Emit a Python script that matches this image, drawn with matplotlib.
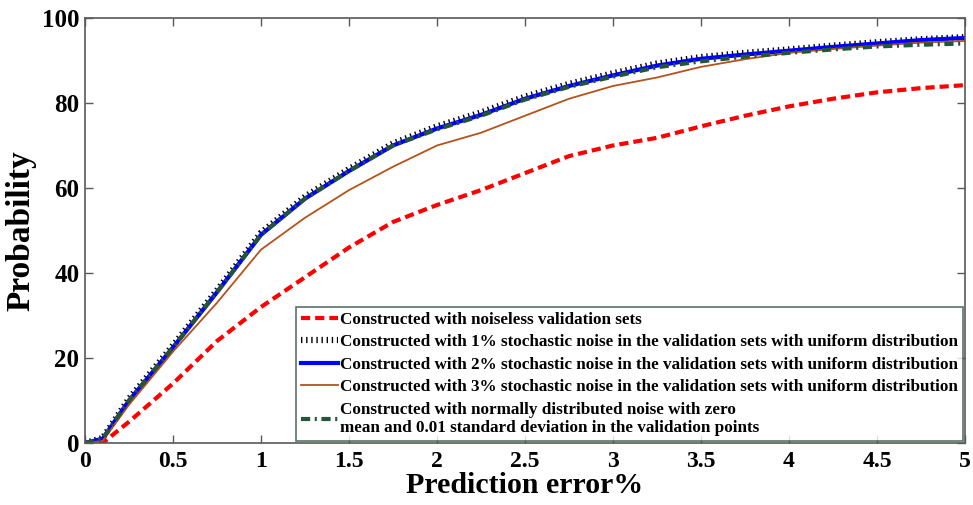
import numpy as np
import matplotlib
matplotlib.use('Agg')
import matplotlib.pyplot as plt
from matplotlib.ticker import FuncFormatter

# erro de previsao (%)
erro = [0, 0.1, 0.25, 0.5, 0.75, 1, 1.25, 1.5, 1.75, 2, 2.25, 2.5, 2.75, 3,
        3.25, 3.5, 3.75, 4, 4.25, 4.5, 4.75, 5]

sem_ruido = [0, 0, 5, 14, 24, 32, 39, 46, 52, 56, 59.5, 63.5, 67.5, 70,
             71.8, 74.5, 77, 79.2, 81, 82.5, 83.5, 84.2]
ruido_1 = [0, 1.2, 10.5, 23, 36, 49.5, 58, 64.5, 70.5, 74.5, 77.8, 81.5, 84.5, 87,
           89.3, 90.8, 91.8, 92.6, 93.5, 94.3, 95, 95.5]
ruido_2 = [0, 1, 10, 22.5, 35.5, 49, 57.5, 64, 70, 74, 77.2, 81, 84, 86.5,
           88.8, 90.4, 91.4, 92.3, 93.2, 94, 94.8, 95.3]
ruido_3 = [0, 0.5, 9, 21.5, 33, 45.5, 53, 59.5, 65, 70, 73, 77, 81, 84,
           86, 88.5, 90.3, 91.8, 92.7, 93.5, 94.2, 94.6]
ruido_normal = [0, 1, 10, 22.5, 35.5, 49, 57.5, 64, 70, 73.8, 77, 80.8, 83.8, 86.2,
                88.4, 89.8, 90.9, 91.8, 92.6, 93.3, 93.7, 94]

rotulos = ['Constructed with noiseless validation sets',
           'Constructed with 1% stochastic noise in the validation sets with uniform distribution',
           'Constructed with 2% stochastic noise in the validation sets with uniform distribution',
           'Constructed with 3% stochastic noise in the validation sets with uniform distribution',
           'Constructed with normally distributed noise with zero\nmean and 0.01 standard deviation in the validation points']

plt.rcParams['font.family'] = 'Liberation Serif'
plt.rcParams['font.weight'] = 'bold'

fig = plt.figure(figsize=(9.73, 5.05), dpi=100)
ax = fig.add_axes([0.0874, 0.1228, 0.9044, 0.8416])

ax.plot(erro, sem_ruido, color='#ff0000', lw=3, ls=(0, (2.2, 1.2)), label=rotulos[0])
ax.plot(erro, ruido_1, color='black', lw=4.5, ls=(0, (0.22, 0.6)), label=rotulos[1])
ax.plot(erro, ruido_2, color='#0000ff', lw=3, label=rotulos[2])
ax.plot(erro, ruido_3, color='#b5521c', lw=1.3, label=rotulos[3])
ax.plot(erro, ruido_normal, color='#24553a', lw=3, ls=(0, (2.2, 1.1, 0.5, 1.1)), label=rotulos[4])

ax.set_xlim(0, 5)
ax.set_ylim(0, 100)
ax.set_xticks(np.arange(0, 5.01, 0.5))
ax.set_yticks(np.arange(0, 101, 20))
ax.xaxis.set_major_formatter(FuncFormatter(lambda v, p: ('%g' % v)))
ax.tick_params(direction='in', top=True, right=True, length=6, width=1,
               labelsize=18, color='0.35')
ax.tick_params(axis='x', labelsize=17, pad=6)
ax.tick_params(axis='y', pad=4)
for s in ax.spines.values():
    s.set_color('0.35')
    s.set_linewidth(1.2)

ax.set_xlabel('Prediction error%', fontsize=21.5, fontweight='bold', labelpad=0)
ax.set_ylabel('Probability', fontsize=24, fontweight='bold', labelpad=4)

leg = ax.legend(loc='lower right', fontsize=12.3, frameon=True, fancybox=False,
                handlelength=2.2, handletextpad=0.1, labelspacing=0.38,
                borderaxespad=0.1, borderpad=0.3)
leg.get_frame().set_edgecolor('#2f5040')
leg.get_frame().set_linewidth(1.2)

plt.savefig('out.png', dpi=100)
